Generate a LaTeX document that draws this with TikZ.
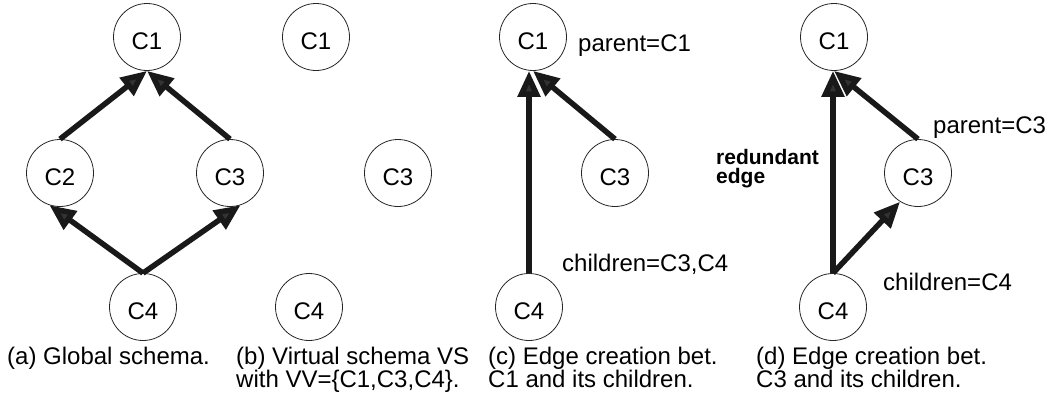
\documentclass[tikz,border=0pt]{standalone}
\usepackage{fontspec}
\setmainfont{Liberation Sans}
\usetikzlibrary{arrows.meta}
\begin{document}
\begin{tikzpicture}[x=1pt,y=-1pt,
  cls/.style={circle,draw=black!85,line width=0.8pt,minimum size=67pt,inner sep=0pt,
    font=\fontsize{24}{28}\selectfont,text height=24pt,text depth=0pt},
  link/.style={line width=5.5pt,draw=black!90,
    -{Triangle[length=26pt,width=22pt,fill=black!80]}},
  lbl/.style={font=\fontsize{24}{28}\selectfont,anchor=base west,inner sep=0pt},
  caption/.style={font=\fontsize{24}{22}\selectfont,anchor=north west,align=left,inner sep=0pt},
  note/.style={font=\bfseries\fontsize{21}{19}\selectfont,anchor=north west,align=left,inner sep=0pt},
]
\useasboundingbox (0,0) rectangle (1059,402);

% (a) global schema
\node[cls] (C1a) at (147,37)  {C1};
\node[cls] (C2a) at (60,173)  {C2};
\node[cls] (C3a) at (230,173) {C3};
\node[cls] (C4a) at (143,307) {C4};
\draw[link] (C4a.north) -- (C2a.252);
\draw[link] (C4a.north) -- (C3a.288);
\draw[link] (C2a.north) -- (C1a.south);
\draw[link] (C3a.north) -- (C1a.south);
\node[caption] (capa) at (7,347) {(a) Global schema.};

% (b) virtual schema
\node[cls] (C1b) at (316,37)  {C1};
\node[cls] (C3b) at (398,173) {C3};
\node[cls] (C4b) at (309,307) {C4};
\node[caption] (capb) at (236,347) {(b) Virtual schema VS\\with VV=\{C1,C3,C4\}.};

% (c) edges from C1 to its children
\node[cls] (C1c) at (533,37)  {C1};
\node[cls] (C3c) at (615,173) {C3};
\node[cls] (C4c) at (529,307) {C4};
\draw[link] (C4c.north) -- (C4c.north |- C1c.south);
\draw[link] (C3c.north) -- (C1c.south);
\node[lbl] (parc) at (578,51) {parent=C1};
\node[lbl] (chic) at (562,271) {children=C3,C4};
\node[caption] (capc) at (488,347) {(c) Edge creation bet.\\C1 and its children.};

% (d) edges from C3 to its children
\node[cls] (C1d) at (834,37)  {C1};
\node[cls] (C3d) at (918,173) {C3};
\node[cls] (C4d) at (833,307) {C4};
\draw[link] (C4d.north) -- (C4d.north |- C1d.south);
\draw[link] (C3d.north) -- (C1d.south);
\draw[link] (C4d.north) -- (C3d.238);
\node[lbl] (pard) at (933,133) {parent=C3};
\node[lbl] (chid) at (883,290) {children=C4};
\node[note] (red) at (716,149) {redundant\\edge};
\node[caption] (capd) at (756,347) {(d) Edge creation bet.\\C3 and its children.};
\end{tikzpicture}
\end{document}
